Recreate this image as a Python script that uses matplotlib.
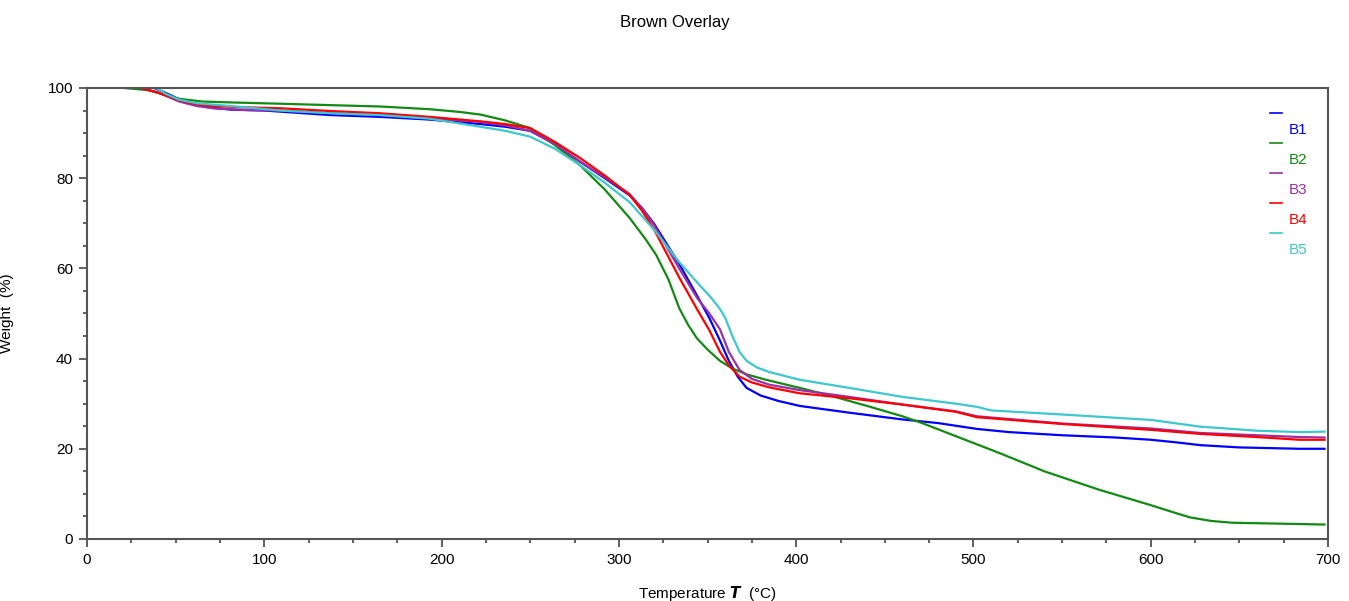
import matplotlib.pyplot as plt
from matplotlib.lines import Line2D
from matplotlib.ticker import MultipleLocator

plt.rcParams['font.family'] = ['Liberation Sans', 'DejaVu Sans']

# TGA curves: temperature (C) and weight (%)
t_b1 = [38, 45, 52, 62, 71, 81, 100, 137, 165, 193, 222, 236, 250, 264, 278, 292, 306, 313, 320, 334, 344, 351, 357, 362, 367, 372, 380, 390, 402,
        430, 460, 480, 502, 520, 550, 580, 600, 615, 628, 650, 684, 698]
w_b1 = [100, 98.8, 97.5, 96.3, 95.6, 95.2, 95, 94, 93.6, 93, 92, 91.4, 90.5, 87.5, 83.7, 80, 76.2, 73.4, 69.8, 61, 54, 49, 44, 39.5, 36, 33.5, 31.8, 30.6, 29.5,
        28, 26.5, 25.7, 24.4, 23.7, 23, 22.5, 22, 21.4, 20.8, 20.3, 20, 20]

t_b2 = [21, 35, 45, 52, 65, 81, 110, 137, 165, 193, 210, 222, 236, 250, 264, 278, 292, 306, 315, 321, 328, 334, 339, 344, 350, 357, 364, 372, 383, 402,
        420, 440, 460, 471, 490, 515, 540, 571, 600, 612, 622, 634, 646, 686, 698]
w_b2 = [100, 99.5, 98.3, 97.6, 97, 96.8, 96.5, 96.2, 95.9, 95.3, 94.7, 94.1, 92.8, 91.1, 87.3, 82.9, 77.5, 71.2, 66.5, 63, 57.5, 51.2, 47.5, 44.5, 42, 39.5, 37.8, 36.5, 35.3, 33.5,
        31.7, 29.5, 27.2, 25.7, 22.8, 19, 15, 10.9, 7.5, 6, 4.8, 4, 3.6, 3.3, 3.2]

t_b3 = [30, 40, 52, 62, 71, 90, 109, 137, 165, 193, 222, 236, 250, 264, 278, 292, 306, 313, 320, 334, 344, 351, 357, 362, 368, 375, 385, 402,
        430, 460, 490, 502, 550, 600, 628, 660, 684, 698]
w_b3 = [100, 99, 97, 96, 95.5, 95.1, 95, 94.5, 94, 93.3, 92.5, 91.7, 90.5, 87.6, 83.7, 80.2, 76.5, 73.3, 69.5, 60, 53.5, 50, 46.5, 41.5, 37.5, 35.5, 34.2, 33,
        31.5, 29.8, 28.3, 27.2, 25.6, 24.5, 23.5, 23, 22.6, 22.5]

t_b4 = [30, 40, 52, 62, 71, 90, 109, 137, 165, 193, 222, 236, 250, 264, 278, 292, 306, 313, 320, 334, 344, 351, 357, 362, 368, 375, 385, 402,
        430, 460, 490, 502, 550, 600, 628, 660, 684, 698]
w_b4 = [100, 99, 97.3, 96.4, 96, 95.7, 95.5, 94.9, 94.4, 93.6, 92.6, 92, 91.1, 88, 84.5, 80.6, 76.3, 72.8, 68.5, 58, 51, 46.3, 41.5, 38.5, 36, 34.7, 33.6, 32.3,
        31.2, 29.8, 28.2, 27, 25.5, 24.2, 23.3, 22.6, 22, 22]

t_b5 = [39, 45, 52, 62, 81, 109, 137, 165, 193, 222, 236, 250, 264, 278, 292, 306, 320, 334, 345, 352, 357, 360, 364, 368, 372, 378, 385, 402,
        430, 460, 490, 502, 510, 550, 600, 628, 660, 684, 698]
w_b5 = [100, 98.6, 97.4, 96.6, 96, 95, 94.4, 94, 93.2, 91.4, 90.5, 89.2, 86.5, 82.9, 79, 74.7, 68.5, 61.4, 56.5, 53.5, 51, 49, 45, 41.5, 39.5, 38, 37, 35.3,
        33.5, 31.5, 30, 29.3, 28.5, 27.6, 26.4, 24.9, 24, 23.7, 23.8]

names = ['B1', 'B2', 'B3', 'B4', 'B5']
colors = ['#0000ff', '#138a13', '#9b30a8', '#ff0000', '#3cc8cc']
temps = [t_b1, t_b2, t_b3, t_b4, t_b5]
weights = [w_b1, w_b2, w_b3, w_b4, w_b5]

fig = plt.figure(figsize=(13.49, 6.01), dpi=100)
ax = fig.add_axes([0.0645, 0.1032, 0.92, 0.7504])

for t, w, c in zip(temps, weights, colors):
    ax.plot(t, w, color=c, lw=1.6)

ax.set_xlim(0, 700)
ax.set_ylim(0, 100)
ax.xaxis.set_major_locator(MultipleLocator(100))
ax.xaxis.set_minor_locator(MultipleLocator(25))
ax.yaxis.set_major_locator(MultipleLocator(20))
ax.yaxis.set_minor_locator(MultipleLocator(5))
ax.tick_params(which='major', length=6, width=1.2, color='#444444', labelsize=11, pad=4)
ax.tick_params(which='minor', length=3, width=1.2, color='#444444')
for s in ax.spines.values():
    s.set_color('#555555')
    s.set_linewidth(1.5)

ax.set_xlabel(r'Temperature $\mathbfit{T}$  (°C)', fontsize=11, labelpad=12)
ax.set_ylabel('Weight  (%)', fontsize=11, labelpad=24)
fig.suptitle('Brown Overlay', fontsize=12, y=0.975)

# legend: short line above each label, like the instrument software
for i, (n, c) in enumerate(zip(names, colors)):
    y0 = 0.945 - i * 0.0665
    ax.add_line(Line2D([0.953, 0.963], [y0, y0], transform=ax.transAxes, color=c, lw=1.2))
    ax.text(0.968, y0 - 0.038, n, transform=ax.transAxes, color=c, fontsize=11, va='center')

fig.savefig('out.png', dpi=100)
